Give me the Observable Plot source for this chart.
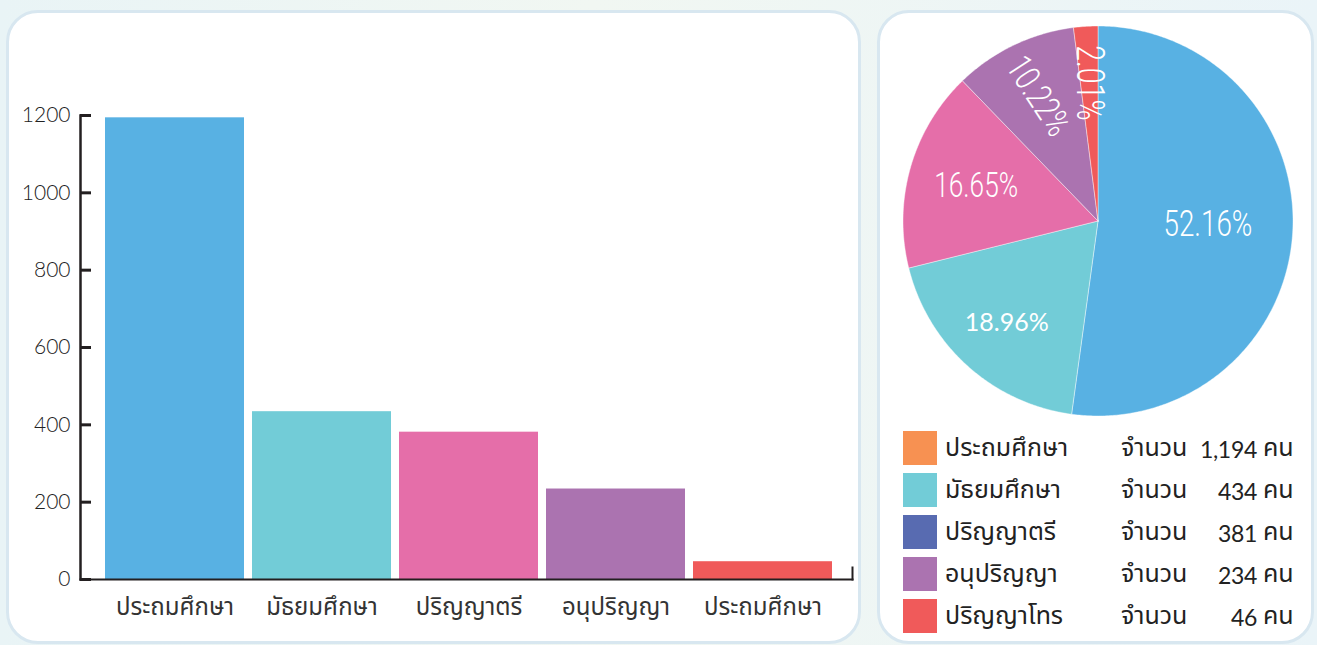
<!DOCTYPE html>
<html>
<head>
<meta charset="utf-8">
<script src="https://cdn.jsdelivr.net/npm/d3@7"></script>
<script src="https://cdn.jsdelivr.net/npm/@observablehq/plot@0.6"></script>
<style>
  html, body { margin: 0; padding: 0; }
  body {
    width: 1317px; height: 645px; overflow: hidden; position: relative;
    background: linear-gradient(90deg, #e9f4f6 0%, #f1f7f2 45%, #eaf4f8 100%);
    font-family: "Noto Sans Thai", "Noto Sans Thai Looped", "Loma", "Garuda", "Norasi", "Tlwg Typo", "Waree", "Lato", sans-serif;
  }
  .panel {
    position: absolute; background: #fff; border: 3px solid #d8e7f0; border-radius: 32px; box-sizing: border-box;
  }
  #left { left: 6px; top: 10px; width: 855px; height: 634px; }
  #right { left: 877px; top: 10px; width: 437px; height: 634px; }
  #bars, #pie { position: absolute; }
  #bars { left: 0; top: 0; }
  #pie { left: 878px; top: 10px; }
  #legend { position: absolute; left: 903px; top: 431px; font-size: 25px; color: #222; }
  .row { position: relative; height: 42px; width: 400px; }
  .sw { position: absolute; left: 0; top: 0; width: 34px; height: 34px; }
  .lab { position: absolute; left: 42px; top: 0; line-height: 34px; white-space: nowrap; }
  .unit { position: absolute; left: 218px; top: 0; line-height: 34px; white-space: nowrap; }
  .num { position: absolute; right: 46px; top: 1px; line-height: 34px; text-align: right; font-family: Lato, sans-serif; font-size: 23px; letter-spacing: -0.3px; }
  .kon { position: absolute; left: 360px; top: 0; line-height: 34px; white-space: nowrap; }
</style>
</head>
<body>
<div class="panel" id="left"></div>
<div class="panel" id="right"></div>
<div id="bars"></div>
<div id="pie"></div>
<div id="legend"></div>
<script>
// ---- data ----
const categories = ["ประถมศึกษา", "มัธยมศึกษา", "ปริญญาตรี", "อนุปริญญา", "ประถมศึกษา"];
const barValues = [1194, 434, 381, 234, 46];
const barColors = ["#58b1e3", "#72ccd7", "#e56ea9", "#ab73b0", "#f05a5a"];
const yTicks = [0, 200, 400, 600, 800, 1000, 1200];

const pieValues = [1194, 434, 381, 234, 46];
const pieLabels = ["52.16%", "18.96%", "16.65%", "10.22%", "2.01%"];
const pieColors = ["#58b1e3", "#72ccd7", "#e56ea9", "#ab73b0", "#f05a5a"];

const legendLabels = ["ประถมศึกษา", "มัธยมศึกษา", "ปริญญาตรี", "อนุปริญญา", "ปริญญาโทร"];
const legendColors = ["#f79152", "#72ccd7", "#586bb1", "#ab73b0", "#f05a5a"];
const legendCounts = [1194, 434, 381, 234, 46];

// ---- bar chart ----
const thaiFont = '"Noto Sans Thai", "Noto Sans Thai Looped", "Loma", "Garuda", "Norasi", "Tlwg Typo", "Waree", "Lato", sans-serif';
const barData = barValues.map((v, i) => ({i, v, c: barColors[i]}));
const W = 860, H = 640, mL = 80, mR = 8, mT = 115, mB = 61;
const frameW = W - mL - mR;

const bars = Plot.plot({
  width: W, height: H,
  marginLeft: mL, marginRight: mR, marginTop: mT, marginBottom: mB,
  style: {background: "transparent", color: "#333", fontFamily: thaiFont, overflow: "visible"},
  x: {domain: d3.range(categories.length), range: [103, 835], paddingInner: 0.054, paddingOuter: 0, label: null},
  y: {domain: [0, 1200], range: [H - mB, mT], label: null},
  color: {type: "identity"},
  marks: [
    Plot.barY(barData, {x: "i", y: "v", fill: "c"}),
    Plot.frame({anchor: "left", stroke: "#231f20", strokeWidth: 2.5}),
    Plot.frame({anchor: "bottom", stroke: "#231f20", strokeWidth: 2}),
    Plot.frame({anchor: "right", stroke: "#231f20", strokeWidth: 2, insetTop: (H - mB - mT) - 12}),
    Plot.ruleY(yTicks, {y: d => d, stroke: "#231f20", strokeWidth: 3, insetRight: frameW - 11}),
    Plot.axisY(yTicks, {tickSize: 0, tickPadding: 10, fontSize: 21, fontFamily: "Lato", fontWeight: 300, fill: "#222", label: null, tickFormat: d => String(d)}),
    Plot.axisX({tickSize: 0, tickPadding: 18, fontSize: 24, tickFormat: i => categories[i], fill: "#333", label: null})
  ]
});
document.getElementById("bars").appendChild(bars);

// ---- pie chart ----
const arcs = d3.pie().sort(null).value(d => d)(pieValues);
const piePts = [];
arcs.forEach((a, k) => {
  piePts.push({k, x: 0, y: 0, c: pieColors[k]});
  const n = Math.max(2, Math.ceil((a.endAngle - a.startAngle) / 0.01));
  for (let j = 0; j <= n; j++) {
    const t = a.startAngle + (a.endAngle - a.startAngle) * j / n;
    piePts.push({k, x: Math.sin(t), y: Math.cos(t), c: pieColors[k]});
  }
  piePts.push({k, x: 0, y: 0, c: pieColors[k]});
});
const labelR = [0.565, 0.70, 0.65, 0.71, 0.71];
const labelRot = [0, 0, 0, 57, 90];
const labelSize = [37, 25, 35, 36, 38];
const labelData = arcs.map((a, k) => {
  const m = (a.startAngle + a.endAngle) / 2;
  return {k, x: Math.sin(m) * labelR[k], y: Math.cos(m) * labelR[k], t: pieLabels[k], r: labelRot[k], s: labelSize[k]};
});
const PW = 435, PH = 410, cx = 219.5, cy = 210.5, R = 195;
const pie = Plot.plot({
  width: PW, height: PH, margin: 0,
  style: {background: "transparent", overflow: "visible"},
  x: {domain: [-1, 1], range: [cx - R, cx + R], axis: null},
  y: {domain: [-1, 1], range: [cy + R, cy - R], axis: null},
  color: {type: "identity"},
  marks: [
    Plot.line(piePts, {x: "x", y: "y", z: "k", fill: "c", stroke: "#ffffff", strokeWidth: 0.6, strokeOpacity: 0.7, curve: "linear"}),
    Plot.text(labelData.filter(d => d.k === 0), {x: "x", y: "y", dy: -4, text: "t", fontSize: "s", fill: "white",
      fontFamily: "Roboto, sans-serif", fontWeight: 300, className: "condensed"}),
    Plot.text(labelData.filter(d => d.k > 1), {x: "x", y: "y", text: "t", rotate: "r", fontSize: "s", fill: "white",
      fontFamily: "Roboto, sans-serif", fontWeight: 300, className: "condensed"}),
    Plot.text(labelData.filter(d => d.k === 1), {x: "x", y: "y", text: "t", fontSize: "s", fill: "white",
      fontFamily: "Lato, sans-serif", fontWeight: 400})
  ]
});
document.getElementById("pie").appendChild(pie);
// narrow the condensed labels horizontally
d3.select(pie).selectAll("g.condensed text").each(function () {
  const t = this.getAttribute("transform") || "";
  this.setAttribute("transform", t + " scale(0.75,1)");
});

// ---- legend ----
const fmt = d3.format(",");
const leg = document.getElementById("legend");
legendLabels.forEach((l, i) => {
  const row = document.createElement("div");
  row.className = "row";
  row.innerHTML = `<div class="sw" style="background:${legendColors[i]}"></div>` +
    `<div class="lab">${l}</div><div class="unit">จำนวน</div>` +
    `<div class="num">${fmt(legendCounts[i])}</div><div class="kon">คน</div>`;
  leg.appendChild(row);
});
</script>
</body>
</html>
